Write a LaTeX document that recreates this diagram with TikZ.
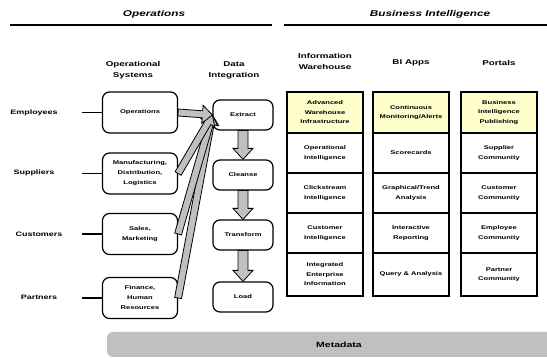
\documentclass[tikz,border=0pt]{standalone}
\usepackage{fontspec}
\setmainfont{Liberation Sans}[FakeStretch=1.4]
\usetikzlibrary{calc}

\definecolor{paleyellow}{HTML}{FFFFCC}
\definecolor{arrowgray}{HTML}{C0C0C0}

\tikzset{
  headtext/.style={font=\fontsize{8.4}{10}\selectfont\bfseries\itshape},
  coltext/.style={align=center,font=\fontsize{7}{11}\selectfont\bfseries},
  sidetext/.style={font=\fontsize{6.4}{8}\selectfont\bfseries},
  opbox/.style={draw,line width=1.2pt,rounded corners=7pt,fill=white,align=center,
    minimum width=75pt,minimum height=41pt,inner sep=1pt,
    font=\fontsize{5.4}{10}\selectfont\bfseries},
  dibox/.style={opbox,minimum width=60pt,minimum height=30pt},
  cell/.style={draw,line width=1.6pt,align=center,minimum width=76pt,minimum height=40pt,
    inner sep=1pt,font=\fontsize{5.4}{9.5}\selectfont\bfseries},
  topcell/.style={cell,fill=paleyellow,minimum height=41pt},
  lastcell/.style={cell,minimum height=43pt}
}

\begin{document}
\begin{tikzpicture}[x=1pt,y=-1pt]
\newcommand{\blockarrow}[5]{
  \coordinate (ba-s) at (#1); \coordinate (ba-e) at (#2);
  \coordinate (ba-m) at ($(ba-e)!#5!(ba-s)$);
  \filldraw[fill=arrowgray,draw=black,line width=0.8pt]
    ($(ba-s)!#3!90:(ba-e)$) -- ($(ba-m)!#3!90:(ba-e)$) -- ($(ba-m)!#4!90:(ba-e)$)
    -- (ba-e) -- ($(ba-m)!#4!-90:(ba-e)$) -- ($(ba-m)!#3!-90:(ba-e)$)
    -- ($(ba-s)!#3!-90:(ba-e)$) -- cycle;}
  \useasboundingbox (0,0) rectangle (547,358);

  % Headings
  \node[headtext] (opshead) at (154,14) {Operations};
  \node[headtext] (bihead) at (430,14) {Business Intelligence};
  \draw[line width=2pt] (10,25) -- (272,25);
  \draw[line width=2pt] (284,25) -- (547,25);

  % Column titles
  \node[coltext] (opsys) at (133,70) {Operational\\Systems};
  \node[coltext] (dataint) at (234,70) {Data\\Integration};
  \node[coltext] (infowh) at (325,62) {Information\\Warehouse};
  \node[coltext] (biapps) at (411,63) {BI Apps};
  \node[coltext] (portals) at (499,63) {Portals};

  % Who uses the systems
  \node[sidetext] (employees) at (34,113) {Employees};
  \node[sidetext] (suppliers) at (34,173) {Suppliers};
  \node[sidetext] (customers) at (39,234) {Customers};
  \node[sidetext] (partners) at (39,297) {Partners};

  % Operational systems
  \node[opbox] (ops) at (140,112.5) {Operations};
  \node[opbox] (mfg) at (140,173.5) {Manufacturing,\\Distribution,\\Logistics};
  \node[opbox] (sales) at (140,234) {Sales,\\Marketing};
  \node[opbox] (fin) at (140,298) {Finance,\\Human\\Resources};
  \draw[line width=1.2pt] (ops.west) -- ++(-20,0);
  \draw[line width=1.2pt] (mfg.west) -- ++(-20,0);
  \draw[line width=1.2pt] (sales.west) -- ++(-20,0);
  \draw[line width=1.2pt] (fin.west) -- ++(-20,0);

  % Data integration steps
  \node[dibox] (extract) at (243,115) {Extract};
  \node[dibox] (cleanse) at (243,175) {Cleanse};
  \node[dibox] (transform) at (243,235) {Transform};
  \node[dibox] (load) at (243,297) {Load};

  % Feeds into extract
  \blockarrow{fin.east}{extract.west}{3.5pt}{8pt}{9pt}
  \blockarrow{sales.east}{extract.west}{3.5pt}{8pt}{9pt}
  \blockarrow{mfg.east}{extract.west}{3.5pt}{8pt}{9pt}
  \blockarrow{ops.east}{extract.west}{3.5pt}{9pt}{10pt}

  % Flow down the steps
  \blockarrow{extract.south}{cleanse.north}{5pt}{10pt}{11pt}
  \blockarrow{cleanse.south}{transform.north}{5pt}{10pt}{11pt}
  \blockarrow{transform.south}{load.north}{5pt}{10pt}{11pt}

  % Information warehouse
  \node[topcell] (iw1) at (325,112.5) {Advanced\\Warehouse\\Infrastructure};
  \node[cell] (iw2) at (325,153) {Operational\\Intelligence};
  \node[cell] (iw3) at (325,193) {Clickstream\\Intelligence};
  \node[cell] (iw4) at (325,233) {Customer\\Intelligence};
  \node[lastcell] (iw5) at (325,274.5) {Integrated\\Enterprise\\Information};

  % BI apps
  \node[topcell] (ba1) at (411,112.5) {Continuous\\Monitoring/Alerts};
  \node[cell] (ba2) at (411,153) {Scorecards};
  \node[cell] (ba3) at (411,193) {Graphical/Trend\\Analysis};
  \node[cell] (ba4) at (411,233) {Interactive\\Reporting};
  \node[lastcell] (ba5) at (411,274.5) {Query \& Analysis};

  % Portals
  \node[topcell] (po1) at (499,112.5) {Business\\Intelligence\\Publishing};
  \node[cell] (po2) at (499,153) {Supplier\\Community};
  \node[cell] (po3) at (499,193) {Customer\\Community};
  \node[cell] (po4) at (499,233) {Employee\\Community};
  \node[lastcell] (po5) at (499,274.5) {Partner\\Community};

  % Metadata bar
  \begin{scope}
    \clip (0,0) rectangle (547,358);
    \node[fill=arrowgray,rounded corners=6pt,minimum width=450pt,minimum height=25pt]
      (metabar) at (332,344.5) {};
  \end{scope}
  \node[font=\fontsize{7.5}{9}\selectfont\bfseries] (metatext) at (339,344.5) {Metadata};
\end{tikzpicture}
\end{document}
